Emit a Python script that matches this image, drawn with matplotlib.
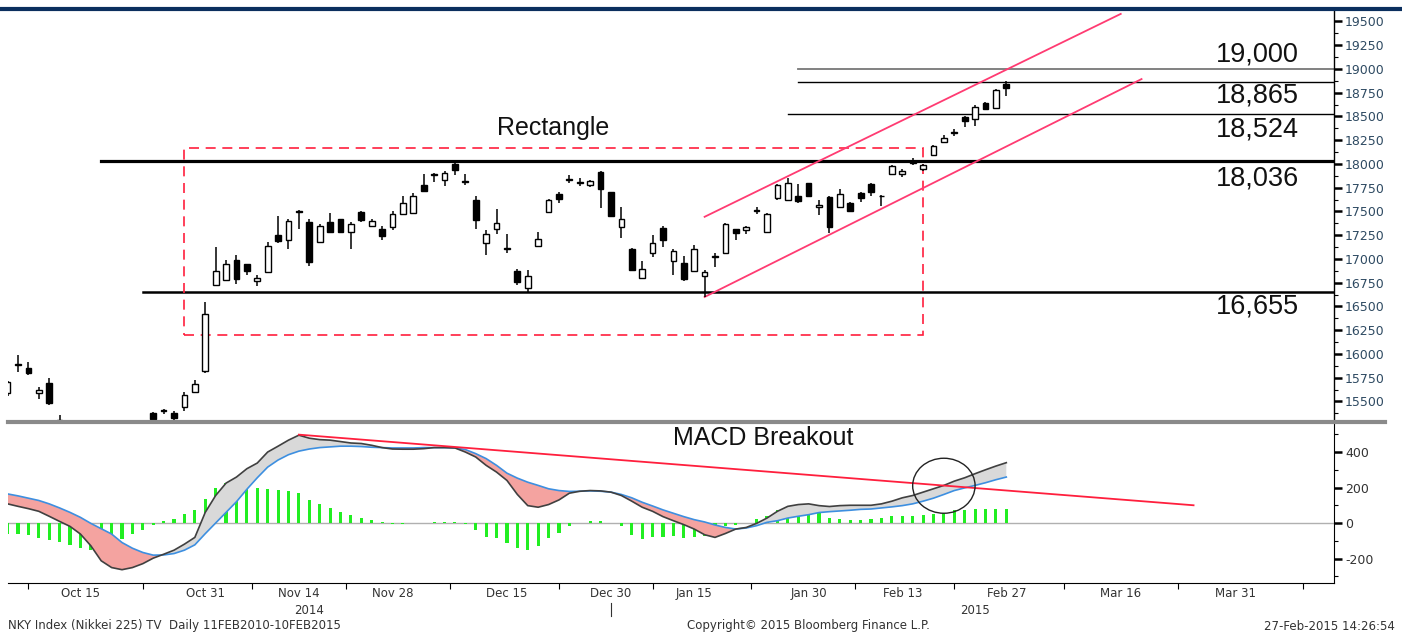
import numpy as np
import pandas as pd
import matplotlib
matplotlib.use('Agg')
import matplotlib.pyplot as plt
from matplotlib.patches import Rectangle, Ellipse
from matplotlib.lines import Line2D
from matplotlib import transforms

plt.rcParams['axes.unicode_minus'] = False
plt.rcParams['font.family'] = 'DejaVu Sans'

# Tokyo trading calendar (market holidays in the window)
holidays = ['2014-10-13', '2014-11-03', '2014-11-24', '2014-12-23', '2014-12-31',
            '2015-01-01', '2015-01-02', '2015-01-12', '2015-02-11']
dates = pd.bdate_range('2014-10-03', '2015-04-10', freq='C', holidays=holidays)
pos = {d.strftime('%Y-%m-%d'): i for i, d in enumerate(dates)}

nan = np.nan
# daily candles, Oct 3 2014 -> Feb 27 2015 (nan = below the visible range)
opens = [15590, 15885, 15848, 15584, 15693, 15310, nan, nan, nan, nan, nan, nan, nan, nan,
         15374, 15400, 15374, 15437, 15605, 15819, 16723, 16784, 16994, 16942, 16766, 16864,
         17251, 17198, 17505, 17392, 17180, 17385, 17416, 17286, 17497, 17346, 17314, 17339,
         17473, 17480, 17778, 17880, 17831, 18000, 17825, 17620, 17170, 17311, 17110, 16874,
         16695, 17138, 17497, 17684, 17835, 17800, 17778, 17919, 17708, 17333, 17110, 16805,
         17058, 17328, 16977, 16961, 16875, 16818, 17020, 17064, 17311, 17304, 17505, 17286,
         17638, 17620, 17666, 17796, 17543, 17652, 17550, 17585, 17698, 17789, 17665, 17891,
         17894, 18012, 17947, 18095, 18236, 18330, 18499, 18472, 18640, 18588, 18841]
highs = [15720, 15985, 15914, 15650, 15742, 15360, nan, nan, nan, nan, nan, nan, nan, nan,
         15390, 15425, 15395, 15605, 15721, 16544, 17127, 16987, 17040, 16950, 16829, 17180,
         17450, 17420, 17515, 17420, 17367, 17487, 17420, 17393, 17500, 17420, 17345, 17500,
         17660, 17695, 17894, 17908, 17930, 18025, 17895, 17660, 17304, 17522, 17261, 16899,
         16889, 17286, 17630, 17700, 17884, 17850, 17830, 17929, 17710, 17543, 17115, 16977,
         17251, 17346, 17100, 17030, 17150, 16880, 17060, 17380, 17320, 17350, 17550, 17480,
         17790, 17850, 17790, 17800, 17620, 17660, 17740, 17600, 17705, 17800, 17670, 17990,
         17950, 18060, 18000, 18200, 18310, 18370, 18510, 18620, 18650, 18790, 18870]
lows = [15560, 15806, 15774, 15531, 15468, 15200, nan, nan, nan, nan, nan, nan, nan, nan,
        15290, 15370, 15310, 15405, 15584, 15800, 16720, 16776, 16734, 16830, 16713, 16855,
        17170, 17100, 17311, 16924, 17170, 17270, 17270, 17100, 17385, 17335, 17200, 17300,
        17460, 17470, 17705, 17815, 17768, 17880, 17780, 17320, 17040, 17268, 17061, 16723,
        16653, 17121, 17480, 17592, 17796, 17770, 17760, 17532, 17440, 17216, 16880, 16794,
        17016, 17127, 16829, 16770, 16860, 16600, 16915, 17050, 17195, 17260, 17470, 17280,
        17620, 17610, 17586, 17660, 17460, 17270, 17540, 17490, 17600, 17660, 17560, 17880,
        17860, 17990, 17930, 18080, 18225, 18290, 18390, 18400, 18570, 18580, 18720]
closes = [15700, 15895, 15795, 15616, 15482, 15290, nan, nan, nan, nan, nan, nan, nan, nan,
          15320, 15410, 15330, 15563, 15679, 16418, 16874, 16945, 16794, 16874, 16800, 17135,
          17191, 17403, 17495, 16970, 17346, 17286, 17286, 17367, 17409, 17399, 17244, 17469,
          17592, 17662, 17718, 17890, 17908, 17937, 17815, 17409, 17258, 17381, 17120, 16758,
          16818, 17212, 17620, 17628, 17845, 17810, 17821, 17733, 17451, 17416, 16889, 16899,
          17163, 17198, 17085, 16794, 17107, 16864, 17028, 17364, 17275, 17339, 17512, 17469,
          17778, 17796, 17610, 17666, 17567, 17339, 17680, 17504, 17645, 17708, 17658, 17982,
          17930, 18020, 17989, 18193, 18271, 18338, 18454, 18605, 18577, 18781, 18799]

macd = [108, 94, 81, 66, 38, 9, -19, -62, -128, -213, -251, -263, -251, -229, -198, -176, -153,
        -119, -81, 60, 155, 225, 259, 306, 338, 400, 433, 467, 495, 478, 470, 467, 459, 451,
        448, 438, 425, 417, 416, 416, 419, 425, 425, 423, 400, 372, 325, 287, 240, 161, 98, 89,
        104, 130, 168, 179, 183, 181, 174, 155, 123, 89, 66, 36, 13, -9, -34, -66, -81, -59,
        -34, -25, -2, 28, 66, 94, 104, 108, 98, 93, 98, 100, 100, 100, 108, 123, 142, 155, 174,
        193, 212, 236, 255, 278, 300, 321, 340]
signal = [164, 153, 140, 127, 108, 85, 60, 32, -2, -32, -62, -110, -142, -166, -181, -180, -172,
          -153, -123, -60, 0, 60, 120, 190, 255, 315, 355, 385, 405, 417, 425, 429, 433, 433,
          431, 427, 425, 423, 423, 423, 425, 425, 425, 423, 414, 391, 363, 325, 281, 253, 230,
          212, 193, 183, 178, 179, 181, 179, 174, 161, 142, 117, 96, 74, 55, 36, 19, 6, -11,
          -25, -34, -28, -15, 4, 13, 28, 38, 47, 59, 64, 68, 72, 77, 79, 85, 91, 98, 108, 123,
          140, 161, 183, 198, 212, 227, 244, 259]
hist = [-64, -64, -69, -83, -97, -107, -125, -138, -154, -152, -114, -92, -64, -40, -12, 14, 24,
        51, 75, 136, 196, 226, 226, 220, 200, 191, 184, 180, 170, 132, 107, 82, 63, 45, 26, 16,
        5, -4, -4, -2, 0, 6, 8, 4, -6, -38, -79, -85, -113, -142, -151, -132, -85, -57, -19, 0,
        9, 9, 0, -19, -66, -91, -79, -76, -72, -85, -79, -72, -66, -19, -9, 0, 23, 38, 72, 79,
        76, 66, 57, 28, 25, 19, 19, 23, 28, 38, 42, 42, 47, 51, 57, 72, 76, 79, 79, 79, 79]

levels = [19000, 18865, 18524, 18036, 16655]
level_starts = ['2015-01-29', '2015-01-29', '2015-01-28', '2014-10-17', '2014-10-23']

rect_dates = ['2014-10-29', '2015-02-17']
rect_values = [16200, 18168]
channel_lower = [('2015-01-16', 16600), ('2015-03-18', 18894)]
channel_upper = [('2015-01-16', 17444), ('2015-03-16', 19580)]
macd_trend = [('2014-11-14', 498), ('2015-03-25', 100)]

label_dates = ['2014-10-15', '2014-10-31', '2014-11-14', '2014-11-28', '2014-12-15',
               '2014-12-30', '2015-01-15', '2015-01-30', '2015-02-13', '2015-02-27',
               '2015-03-16', '2015-03-31']

O = np.array(opens, float)
H = np.array(highs, float)
L = np.array(lows, float)
C = np.array(closes, float)
x = np.arange(len(O))
ok = ~np.isnan(O)
up = ok & (C >= O)
dn = ok & (C < O)

fig = plt.figure(figsize=(14.02, 6.34), dpi=100)
W, Hh = 1402, 634
ax1 = fig.add_axes([8 / W, 1 - 420 / Hh, (1334 - 8) / W, (420 - 10) / Hh])
ax2 = fig.add_axes([8 / W, 1 - 583 / Hh, (1334 - 8) / W, (583 - 424) / Hh])

xmin, xmax = 0.04, 127.5
red = '#ff1f3d'
pink = '#ff3b72'

# ---- price panel
ax1.vlines(x[ok], L[ok], H[ok], color='black', lw=1.1, zorder=3)
body_lo = np.minimum(O, C)
body_h = np.maximum(np.abs(C - O), 6)
ax1.bar(x[up], body_h[up], 0.55, bottom=body_lo[up], facecolor='white',
        edgecolor='black', lw=1.0, zorder=4)
ax1.bar(x[dn], body_h[dn], 0.55, bottom=body_lo[dn], facecolor='black',
        edgecolor='black', lw=1.0, zorder=4)

lstyle = {19000: ('#777777', 1.3), 18865: ('black', 1.0), 18524: ('black', 1.0),
          18036: ('black', 2.3), 16655: ('black', 1.8)}
offs = {19000: 14, 18865: -14, 18524: -15, 18036: -18, 16655: -15}
for v, s in zip(levels, level_starts):
    c, lw = lstyle[v]
    ax1.plot([pos[s], xmax], [v, v], color=c, lw=lw, zorder=2)
    ax1.annotate(f'{v:,}', xy=(124.1, v), xytext=(0, offs[v]), textcoords='offset pixels',
                 ha='right', va='center', fontsize=19.5, family='Liberation Sans', color='#111111')

x0, x1 = pos[rect_dates[0]], pos[rect_dates[1]]
ax1.add_patch(Rectangle((x0, rect_values[0]), x1 - x0, rect_values[1] - rect_values[0],
                        fill=False, edgecolor=red, lw=1.2, ls=(0, (6, 4)), zorder=2))
ax1.text(52.4, 18379, 'Rectangle', ha='center', va='center', fontsize=18,
         family='Liberation Sans', color='#111111')

for line in (channel_lower, channel_upper):
    ax1.plot([pos[d] for d, _ in line], [v for _, v in line], color=pink, lw=1.3, zorder=2)

ax1.set_xlim(xmin, xmax)
ax1.set_ylim(15305, 19621)
for sp in ('top', 'left', 'bottom'):
    ax1.spines[sp].set_visible(False)
ax1.spines['right'].set_linewidth(1.0)
ax1.set_xticks([])
ax1.yaxis.tick_right()
ax1.set_yticks(np.arange(15500, 19501, 250))
ax1.set_yticks(np.arange(15375, 19621, 250), minor=True)
ax1.tick_params(axis='y', which='major', length=6, width=1.8, pad=2, labelsize=9,
                labelcolor='#2e4a62')
ax1.tick_params(axis='y', which='minor', length=3, width=0.8)

# ---- MACD panel
m = np.array(macd, float)
s = np.array(signal, float)
xm = np.arange(len(m))
ax2.axhline(0, color='#b0b0b0', lw=1.0, zorder=1)
ax2.bar(xm, hist, 0.3, color='#22ee22', zorder=2)
ax2.fill_between(xm, m, s, where=m >= s, interpolate=True, color='#d9d9d9', zorder=3, lw=0)
ax2.fill_between(xm, m, s, where=m < s, interpolate=True, color='#f4a3a0', zorder=3, lw=0)
ax2.plot(xm, s, color='#3d8fe0', lw=1.2, zorder=4)
ax2.plot(xm, m, color='#404040', lw=1.2, zorder=5)
ax2.plot([pos[d] for d, _ in macd_trend], [v for _, v in macd_trend], color=red, lw=1.3, zorder=6)
ax2.add_patch(Ellipse((pos['2015-02-19'], 210), 6.0, 310, fill=False, edgecolor='#222222',
                      lw=1.0, zorder=7))
ax2.text(72.6, 479, 'MACD Breakout', ha='center', va='center', fontsize=18,
         family='Liberation Sans', color='#111111')

ax2.set_xlim(xmin, xmax)
ax2.set_ylim(-338, 558)
for sp in ('top', 'left'):
    ax2.spines[sp].set_visible(False)
ax2.yaxis.tick_right()
ax2.set_yticks([-200, 0, 200, 400])
ax2.set_yticks([-300, -100, 100, 300, 500], minor=True)
ax2.tick_params(axis='y', which='major', length=6, width=1.8, pad=2, labelsize=9,
                labelcolor='#333333')
ax2.tick_params(axis='y', which='minor', length=3, width=0.8)

lab_x = np.array([pos[d] for d in label_dates], float)
ax2.set_xticks(lab_x)
ax2.set_xticklabels([f'{dates[int(i)]:%b} {dates[int(i)].day}' for i in lab_x])
mids = (lab_x[:-1] + lab_x[1:]) / 2
mids = np.concatenate([[lab_x[0] - 5], mids, [lab_x[-1] + 6.5]])
ax2.set_xticks(mids, minor=True)
ax2.tick_params(axis='x', which='major', length=0, pad=3, labelsize=8.5, labelcolor='#333333')
ax2.tick_params(axis='x', which='minor', length=4, width=0.8)

tr = transforms.blended_transform_factory(ax2.transData, ax2.transAxes)
ax2.text(pos['2014-11-14'] + 1, -0.17, '2014', transform=tr, ha='center', va='center',
         fontsize=8.5, color='#333333')
ax2.text(pos['2015-02-24'], -0.17, '2015', transform=tr, ha='center', va='center',
         fontsize=8.5, color='#333333')
ax2.plot([58, 58], [-0.125, -0.205], transform=tr, color='#333333', lw=0.8, clip_on=False)

# frame lines and footer
fig.add_artist(Line2D([0, 1], [1 - 9 / Hh, 1 - 9 / Hh], color='#0b2f5e', lw=3))
fig.add_artist(Line2D([8 / W, 1385 / W], [1 - 421.5 / Hh, 1 - 421.5 / Hh], color='#8a8a8a', lw=3))
fig.text(8 / W, 1 - 626 / Hh, 'NKY Index (Nikkei 225) TV  Daily 11FEB2010-10FEB2015',
         ha='left', va='center', fontsize=8.5, color='#333333')
fig.text(808 / W, 1 - 626 / Hh, 'Copyright\u00a9 2015 Bloomberg Finance L.P.',
         ha='center', va='center', fontsize=8.5, color='#333333')
fig.text(1395 / W, 1 - 626 / Hh, '27-Feb-2015 14:26:54', ha='right', va='center',
         fontsize=8.5, color='#333333')

fig.savefig('out.png', dpi=100)
